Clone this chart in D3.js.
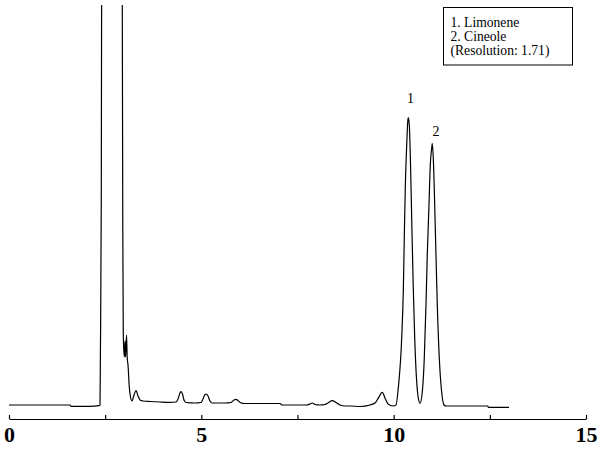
<!DOCTYPE html>
<html lang="en">

<head>
    <meta charset="utf-8">
    <script src="https://cdn.jsdelivr.net/npm/d3@7"></script>
    <style>
        body {
            margin: 0;
            background: white;
        }
        text {
            font-family: "Liberation Serif", "Times New Roman", serif;
            fill: black;
        }
    </style>
</head>

<body>
    <div id="my_dataviz"></div>

    <script>
        // retention time (min) and detector signal
        const times = [0, 1.586, 1.612, 2.106, 2.340, 2.366, 2.376, 2.399, 2.407, 2.425, 2.626, 2.938, 2.945, 2.958, 2.971,
            2.997, 3.016, 3.029, 3.055, 3.073, 3.094, 3.127, 3.159, 3.198, 3.250, 3.302, 3.354, 3.406, 3.483, 3.666,
            3.925, 4.185, 4.341, 4.393, 4.445, 4.471, 4.510, 4.549, 4.601, 4.835, 4.991, 5.043, 5.095, 5.129, 5.173,
            5.225, 5.277, 5.615, 5.771, 5.849, 5.901, 5.953, 6.031, 6.135, 7.045, 7.097, 7.721, 7.825, 7.885, 7.955,
            8.085, 8.215, 8.293, 8.405, 8.501, 8.605, 8.735, 8.865, 9.125, 9.385, 9.515, 9.593, 9.704, 9.782, 9.853,
            9.983, 10.061, 10.120, 10.209, 10.250, 10.276, 10.302, 10.339, 10.365, 10.380, 10.406, 10.443, 10.476,
            10.510, 10.547, 10.599, 10.640, 10.685, 10.744, 10.796, 10.840, 10.874, 10.918, 10.952, 10.989, 11.004,
            11.030, 11.067, 11.100, 11.134, 11.186, 11.248, 11.308, 11.360, 12.444, 12.465, 12.998];
        const signal = [5, 5, 3.7, 3.7, 4.3, 5, 55, 210, 392, 460, 700, 460, 405, 181, 75,
            53, 69, 53, 75, 52, 45, 23, 13, 9, 15, 19.3, 14, 10, 9, 8.5,
            8, 7.7, 8, 11, 17, 18.3, 16, 10, 7.5, 7, 7.5, 11, 15.5, 16, 14,
            9, 7, 7, 7.5, 10, 10.7, 9.5, 7, 6.5, 6.5, 5, 5, 6, 7, 5.5,
            5, 5.5, 7, 9.3, 7.5, 5, 4, 4, 3.5, 5, 7, 11.3, 17.7, 11.3, 6,
            4, 5, 22, 72, 118, 172, 222, 265, 288, 292.3, 285, 238, 178,
            122, 72, 28, 12, 6.7, 18, 52, 105, 155, 205, 245, 262, 266.7,
            252, 205, 155, 105, 52, 18, 5, 4, 4, 2.7, 2.7];

        // x axis ticks
        const xTicks = [0, 2.5, 5, 7.5, 10, 12.5, 15];
        const xTickLabels = ["0", "", "5", "", "10", "", "15"];

        // peak labels
        const peakLabels = ["1", "2"];
        const peakLabelTime = [10.44, 11.10];
        const peakLabelSignal = [307.3, 274];

        const legendLines = ["1. Limonene", "2. Cineole", "(Resolution: 1.71)"];

        const width = 616, height = 453;

        const svg = d3.select("#my_dataviz")
            .append("svg")
            .attr("width", width)
            .attr("height", height);

        const x = d3.scaleLinear().domain([0, 15]).range([9, 586]);
        const y = d3.scaleLinear().domain([0, 400]).range([410, 10]);

        const data = times.map((t, i) => ({ t, s: signal[i] }));

        // clip the off-scale solvent peak
        svg.append("clipPath")
            .attr("id", "plot-clip")
            .append("rect")
            .attr("x", 0)
            .attr("y", 5)
            .attr("width", width)
            .attr("height", height - 5);

        svg.append("path")
            .datum(data)
            .attr("clip-path", "url(#plot-clip)")
            .attr("fill", "none")
            .attr("stroke", "black")
            .attr("stroke-width", 1.2)
            .attr("d", d3.line()
                .x(d => x(d.t))
                .y(d => y(d.s))
                .curve(d3.curveMonotoneX));

        // X axis, ticks pointing up
        const xAxis = svg.append("g")
            .attr("transform", "translate(0,419)")
            .call(d3.axisBottom(x)
                .tickValues(xTicks)
                .tickFormat((d, i) => xTickLabels[i])
                .tickSizeInner(-4)
                .tickSizeOuter(0));
        xAxis.select(".domain").attr("stroke", "black").attr("stroke-width", 1.2);
        xAxis.selectAll(".tick line").attr("stroke", "black").attr("stroke-width", 1.2);
        xAxis.selectAll(".tick text")
            .attr("y", 22.5)
            .attr("dy", 0)
            .attr("fill", "black")
            .style("font-family", "'Liberation Serif', serif")
            .style("font-size", "22px")
            .style("font-weight", "bold");

        // peak numbers
        svg.selectAll(".peak-label")
            .data(peakLabels)
            .join("text")
            .attr("class", "peak-label")
            .attr("x", (d, i) => x(peakLabelTime[i]))
            .attr("y", (d, i) => y(peakLabelSignal[i]))
            .attr("text-anchor", "middle")
            .attr("fill", "black")
            .style("font-size", "14px")
            .text(d => d);

        // legend box
        const legend = svg.append("g");
        legend.append("rect")
            .attr("x", 443.5)
            .attr("y", 7.5)
            .attr("width", 129)
            .attr("height", 57.5)
            .attr("fill", "white")
            .attr("stroke", "black")
            .attr("stroke-width", 1);
        legend.selectAll("text")
            .data(legendLines)
            .join("text")
            .attr("x", 450.5)
            .attr("y", (d, i) => 26.5 + i * 14)
            .attr("fill", "black")
            .style("font-size", "13.6px")
            .text(d => d);
    </script>

</body>

</html>
